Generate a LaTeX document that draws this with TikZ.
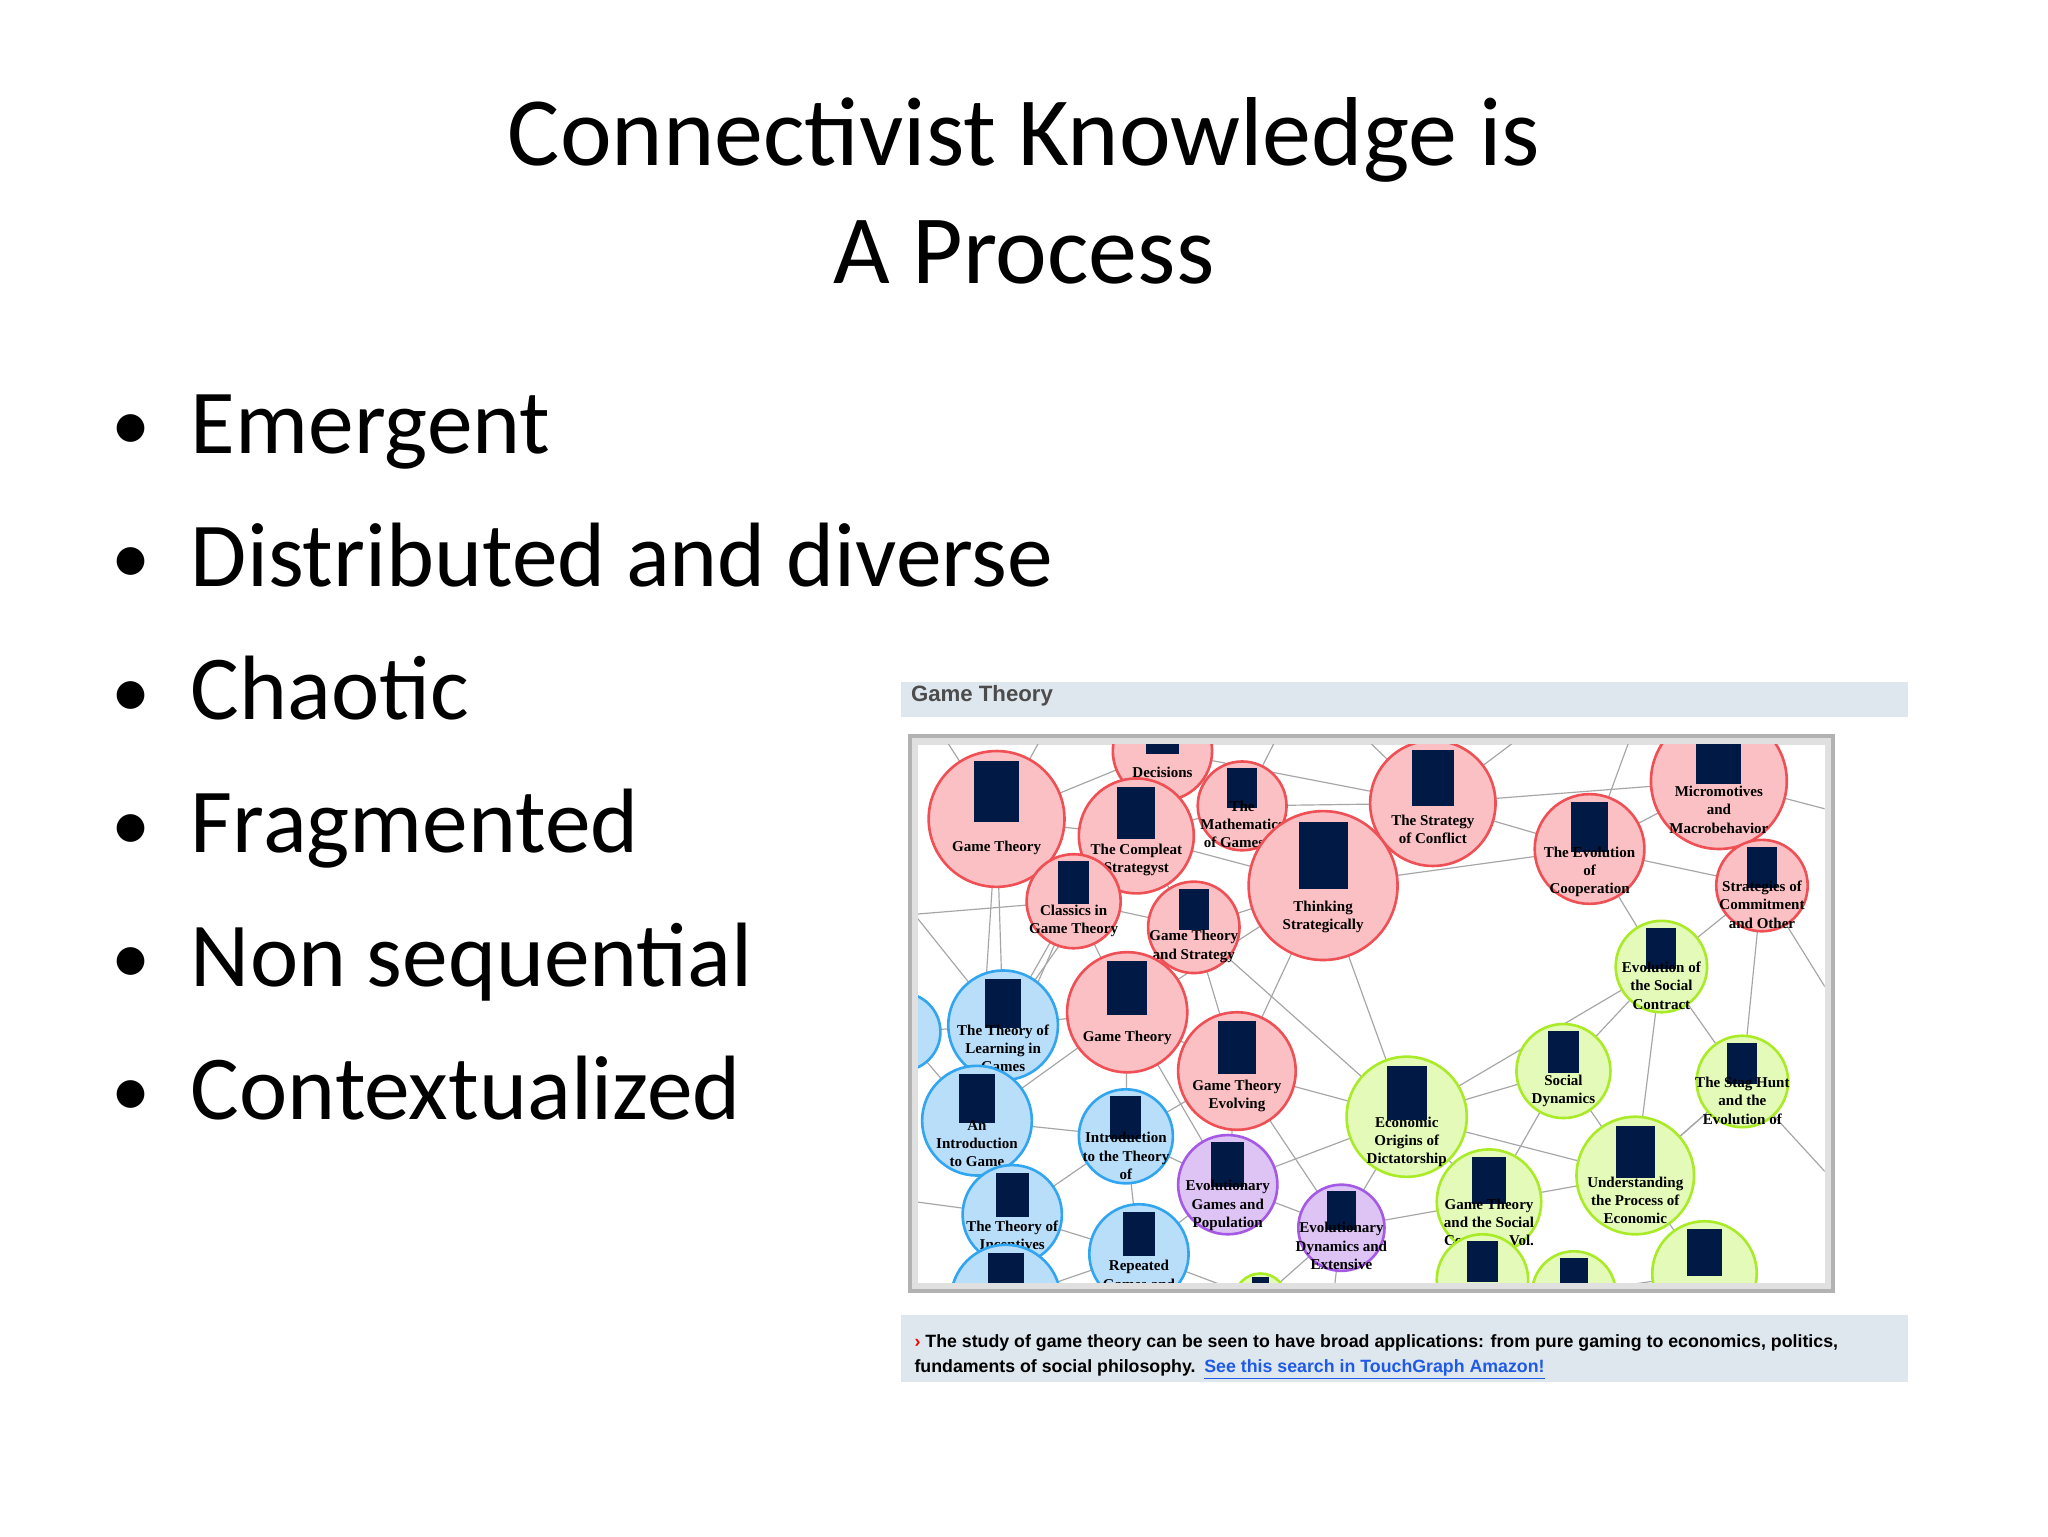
\documentclass[tikz,border=0pt]{standalone}
\usepackage{fontspec}
\setmainfont{Carlito}
\newfontfamily\lbl{Liberation Serif}
\newfontfamily\ssf{Liberation Sans}
\usetikzlibrary{calc}
\definecolor{redE}{RGB}{238,80,85}\definecolor{redF}{RGB}{250,192,195}
\definecolor{bluE}{RGB}{50,165,240}\definecolor{bluF}{RGB}{185,222,250}
\definecolor{purE}{RGB}{165,90,230}\definecolor{purF}{RGB}{222,195,245}
\definecolor{grnE}{RGB}{170,235,40}\definecolor{grnF}{RGB}{228,250,185}
\definecolor{barC}{RGB}{222,230,238}
\definecolor{lnk}{RGB}{30,90,230}
\tikzset{
 rc/.style={draw=redE,fill=redF},
 bc/.style={draw=bluE,fill=bluF},
 pc/.style={draw=purE,fill=purF},
 gc/.style={draw=grnE,fill=grnF},
 edge/.style={draw=black!35,line width=0.9pt},
 booklbl/.style={font=\lbl\bfseries\fontsize{11.5}{14}\selectfont,align=center,inner sep=0pt},
 bullet/.style={anchor=base west,font=\fontsize{68}{70}\selectfont,inner sep=0pt},
}
\newcommand{\bk}[6]{%
 \node[#5,circle,line width=2pt,minimum size=#4*2pt,inner sep=0pt] (#1) at (#2,#3) {};
 \fill[black!70!blue!90!green] ($(#1)+(-#4*0.33,-#4*0.85)$) rectangle ($(#1)+(#4*0.33,#4*0.05)$);
 \node[booklbl] at ($(#1)+(0,#4*0.42)$) {#6};}
\begin{document}
\begin{tikzpicture}[x=1pt,y=-1pt]
\useasboundingbox (0,0) rectangle (1568,1176);
% title
\node[font=\fontsize{75}{90}\selectfont,align=center] (title) at (784,146) {Connectivist Knowledge is\\A Process};
% bullets
\foreach \t [count=\i] in {Emergent,Distributed and diverse,Chaotic,Fragmented,Non sequential,Contextualized}{
 \node[bullet,font=\fontsize{70}{72}\selectfont] (b\i) at (146,347+\i*102-102) {\t};
 \node[bullet,font=\fontsize{60}{60}\selectfont] (d\i) at (85,345+\i*102-102) {•};
}
% screenshot
\fill[barC] (690,522) rectangle (1461,549);
\node[anchor=west,font=\ssf\bfseries\fontsize{17}{18}\selectfont,text=black!70] (hdr) at (694,533) {Game Theory};
\fill[black!30] (695,562) rectangle (1405,990);
\fill[black!12] (698,565) rectangle (1402,987);
\fill[white] (703,570) rectangle (1397,982);
\begin{scope}
\clip (703,570) rectangle (1397,982);
\foreach \n/\x/\y in {1/763/627,2/870/640,3/951/617,4/1013/678,5/1097/615,6/1217/650,7/1316/598,8/1349/678,9/822/690,10/914/710,11/863/775,12/947/820,13/890/575,14/768/785,15/748/858,16/862/870,17/775/930,18/872/960,19/770/995,20/690/790,21/940/907,22/1027/940,23/1272/740,24/1197/820,25/1334/828,26/1077/855,27/1140/920,28/1252/900,29/1135/980,30/1205/990,31/1305/975,32/965/995,
 a/720/560,b/800/560,c/980/560,d/1040/560,e/1170/560,f/1250/560,g/1400/620,h/1400/760,i/1400/900,j/700/700,k/700/920,l/1020/1000,m/1380/1000,o/840/1000}
 \coordinate (c\n) at (\x,\y);
\foreach \p/\q in {1/2,1/9,1/13,1/14,1/a,1/b,2/3,2/9,2/10,2/13,2/4,3/4,3/5,3/13,3/c,4/5,4/10,4/11,4/12,4/6,4/26,5/6,5/7,5/d,5/e,6/7,6/8,6/23,6/f,7/8,7/g,8/23,8/25,8/h,9/10,9/11,9/14,9/15,10/11,10/12,11/12,11/14,11/15,11/16,11/21,12/16,12/21,12/22,12/26,13/c,14/15,14/20,14/j,15/16,15/17,15/20,16/17,16/18,16/21,17/18,17/19,17/k,18/21,18/19,18/o,21/22,21/26,22/26,22/27,22/l,23/24,23/25,23/26,23/28,24/26,24/27,24/28,25/28,25/i,26/27,26/28,27/28,27/29,28/31,28/25,29/30,30/31,31/m,32/22,32/18,2/14,10/26,13/5,1/15,9/j}
 \draw[edge] (c\p) -- (c\q);
\bk{n1}{763}{627}{52}{rc}{Game Theory}
\bk{n13}{890}{575}{38}{rc}{Decisions}
\bk{n2}{870}{640}{44}{rc}{The Compleat\\Strategyst}
\bk{n3}{951}{617}{34}{rc}{The\\Mathematics\\of Games of}
\bk{n5}{1097}{615}{48}{rc}{The Strategy\\of Conflict}
\bk{n7}{1316}{598}{52}{rc}{Micromotives\\and\\Macrobehavior}
\bk{n9}{822}{690}{36}{rc}{Classics in\\Game Theory}
\bk{n10}{914}{710}{35}{rc}{Game Theory\\and Strategy}
\bk{n4}{1013}{678}{57}{rc}{Thinking\\Strategically}
\bk{n6}{1217}{650}{42}{rc}{The Evolution\\of\\Cooperation}
\bk{n8}{1349}{678}{35}{rc}{Strategies of\\Commitment\\and Other}
\bk{n20}{690}{790}{30}{bc}{}
\bk{n14}{768}{785}{42}{bc}{The Theory of\\Learning in\\Games}
\bk{n11}{863}{775}{46}{rc}{Game Theory}
\bk{n12}{947}{820}{45}{rc}{Game Theory\\Evolving}
\bk{n15}{748}{858}{42}{bc}{An\\Introduction\\to Game}
\bk{n16}{862}{870}{36}{bc}{Introduction\\to the Theory\\of}
\bk{n17}{775}{930}{38}{bc}{The Theory of\\Incentives}
\bk{n19}{770}{995}{42}{bc}{}
\bk{n18}{872}{960}{38}{bc}{Repeated\\Games and}
\bk{n21}{940}{907}{38}{pc}{Evolutionary\\Games and\\Population}
\bk{n22}{1027}{940}{33}{pc}{Evolutionary\\Dynamics and\\Extensive}
\bk{n32}{965}{995}{20}{gc}{}
\bk{n23}{1272}{740}{35}{gc}{Evolution of\\the Social\\Contract}
\bk{n24}{1197}{820}{36}{gc}{Social\\Dynamics}
\bk{n25}{1334}{828}{35}{gc}{The Stag Hunt\\and the\\Evolution of}
\bk{n26}{1077}{855}{46}{gc}{Economic\\Origins of\\Dictatorship}
\bk{n27}{1140}{920}{40}{gc}{Game Theory\\and the Social\\Contract, Vol.}
\bk{n28}{1252}{900}{45}{gc}{Understanding\\the Process of\\Economic}
\bk{n29}{1135}{980}{35}{gc}{Moral}
\bk{n30}{1205}{990}{32}{gc}{}
\bk{n31}{1305}{975}{40}{gc}{}
\end{scope}
% bottom bar
\fill[barC] (690,1007) rectangle (1461,1058);
\node[anchor=base west,font=\ssf\bfseries\fontsize{13.6}{15}\selectfont,inner sep=0pt] (cap1) at (700,1032) {{\color{red}›} The study of game theory can be seen to have broad applications: from pure gaming to economics, politics,};
\node[anchor=base west,font=\ssf\bfseries\fontsize{13.6}{15}\selectfont,inner sep=0pt] (cap2) at (700,1051) {fundaments of social philosophy.\enspace{\color{lnk}\underline{See this search in TouchGraph Amazon!}}};
\end{tikzpicture}
\end{document}
